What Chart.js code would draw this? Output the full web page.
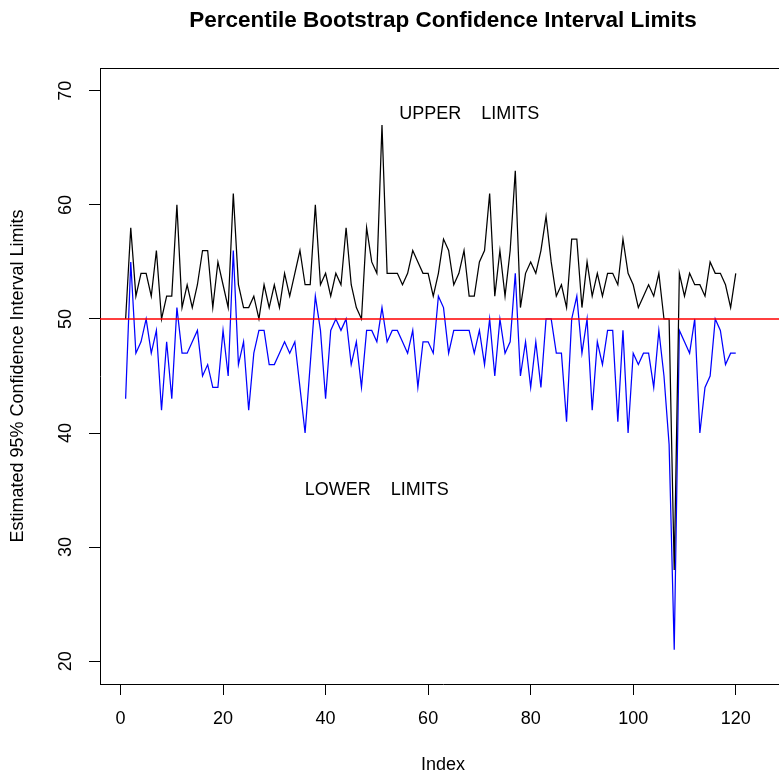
<!DOCTYPE html>
<html>
<head>
<meta charset="utf-8">
<script src="https://cdn.jsdelivr.net/npm/chart.js@4.4.1/dist/chart.umd.min.js"></script>
<style>
  html, body { margin: 0; padding: 0; background: #ffffff; overflow: hidden; }
  #wrap { width: 786px; height: 778px; }
</style>
</head>
<body>
<div id="wrap"><canvas id="c" width="786" height="778"></canvas></div>
<script>
// Bootstrap percentile interval limits, one pair per sample index (1..120)
const upperLimits = [
  50, 58, 52, 54, 54, 52, 56, 50, 52, 52,
  60, 51, 53, 51, 53, 56, 56, 51, 55, 53,
  51, 61, 53, 51, 51, 52, 50, 53, 51, 53,
  51, 54, 52, 54, 56, 53, 53, 60, 53, 54,
  52, 54, 53, 58, 53, 51, 50, 58, 55, 54,
  67, 54, 54, 54, 53, 54, 56, 55, 54, 54,
  52, 54, 57, 56, 53, 54, 56, 52, 52, 55,
  56, 61, 52, 56, 52, 56, 63, 51, 54, 55,
  54, 56, 59, 55, 52, 53, 51, 57, 57, 51,
  55, 52, 54, 52, 54, 54, 53, 57, 54, 53,
  51, 52, 53, 52, 54, 50, 50, 28, 54, 52,
  54, 53, 53, 52, 55, 54, 54, 53, 51, 54
];
const lowerLimits = [
  43, 55, 47, 48, 50, 47, 49, 42, 48, 43,
  51, 47, 47, 48, 49, 45, 46, 44, 44, 49,
  45, 56, 46, 48, 42, 47, 49, 49, 46, 46,
  47, 48, 47, 48, 44, 40, 46, 52, 49, 43,
  49, 50, 49, 50, 46, 48, 44, 49, 49, 48,
  51, 48, 49, 49, 48, 47, 49, 44, 48, 48,
  47, 52, 51, 47, 49, 49, 49, 49, 47, 49,
  46, 50, 45, 50, 47, 48, 54, 45, 48, 44,
  48, 44, 50, 50, 47, 47, 41, 50, 52, 47,
  50, 42, 48, 46, 49, 49, 41, 49, 40, 47,
  46, 47, 47, 44, 49, 45, 39, 21, 49, 48,
  47, 50, 40, 44, 45, 50, 49, 46, 47, 47
];
const xTickValues = [0, 20, 40, 60, 80, 100, 120];
const yTickValues = [20, 30, 40, 50, 60, 70];
const referenceLevel = 50;

const chartTitle = 'Percentile Bootstrap Confidence Interval Limits';
const xAxisTitle = 'Index';
const yAxisTitle = 'Estimated 95% Confidence Interval Limits';
const noteTexts = ['UPPER    LIMITS', 'LOWER    LIMITS'];
const noteIndex = [68, 50];
const noteLevel = [68, 35];

const FONT = '"Liberation Sans", Arial, Helvetica, sans-serif';
const toPoints = arr => arr.map((v, i) => ({ x: i + 1, y: v }));

// Reference line, box top, title, rotated y labels and in-plot notes
const overlay = {
  id: 'overlay',
  afterDatasetsDraw(chart) {
    const { ctx, chartArea: a, scales: { y } } = chart;
    const py = y.getPixelForValue(referenceLevel);
    ctx.save();
    ctx.globalAlpha = 1;
    ctx.globalCompositeOperation = 'source-over';
    ctx.fillStyle = '#ff0000';
    ctx.fillRect(a.left, Math.round(py) - 0.75, a.right - a.left, 1.5);
    ctx.restore();
  },
  afterDraw(chart) {
    const { ctx, chartArea: a, scales: { x, y } } = chart;
    ctx.save();
    ctx.strokeStyle = '#000';
    ctx.lineWidth = 1;
    const ty = Math.round(a.top) + 0.5;
    ctx.beginPath();
    ctx.moveTo(a.left, ty);
    ctx.lineTo(a.right, ty);
    ctx.stroke();

    ctx.fillStyle = '#000';
    ctx.textAlign = 'center';
    ctx.textBaseline = 'middle';
    ctx.font = 'bold 22.5px ' + FONT;
    ctx.fillText(chartTitle, (a.left + a.right) / 2, 21);

    ctx.font = '18px ' + FONT;
    y.ticks.forEach(t => {
      ctx.save();
      ctx.translate(66, y.getPixelForValue(t.value));
      ctx.rotate(-Math.PI / 2);
      ctx.fillText(String(t.value), 0, 0);
      ctx.restore();
    });

    noteTexts.forEach((s, i) => {
      ctx.fillText(s, x.getPixelForValue(noteIndex[i]), y.getPixelForValue(noteLevel[i]));
    });
    ctx.restore();
  }
};

const axisGrid = { drawOnChartArea: false, drawTicks: true, tickLength: 11, color: '#000', lineWidth: 1 };
const axisBorder = { display: true, color: '#000', width: 1 };

new Chart(document.getElementById('c'), {
  type: 'line',
  data: {
    datasets: [
      { label: 'Upper', data: toPoints(upperLimits), borderColor: '#000000', borderWidth: 1.25, pointRadius: 0, tension: 0, fill: false },
      { label: 'Lower', data: toPoints(lowerLimits), borderColor: '#0000ff', borderWidth: 1.25, pointRadius: 0, tension: 0, fill: false }
    ]
  },
  options: {
    responsive: false,
    devicePixelRatio: 1,
    animation: false,
    layout: { padding: { top: 68, right: 0, bottom: 0, left: 0 } },
    plugins: { legend: { display: false }, tooltip: { enabled: false }, title: { display: false } },
    scales: {
      x: {
        type: 'linear',
        min: -4,
        max: 129.8,
        afterBuildTicks: s => { s.ticks = xTickValues.map(v => ({ value: v })); },
        afterFit: s => { s.height = 94; },
        grid: axisGrid,
        border: axisBorder,
        ticks: { color: '#000', font: { family: FONT, size: 18 }, padding: 13, maxRotation: 0, autoSkip: false },
        title: { display: true, text: xAxisTitle, color: '#000', font: { family: FONT, size: 18 }, padding: { top: 0, bottom: 2 } }
      },
      y: {
        type: 'linear',
        min: 18,
        max: 72,
        afterBuildTicks: s => { s.ticks = yTickValues.map(v => ({ value: v })); },
        afterFit: s => { s.width = 100; },
        grid: axisGrid,
        border: axisBorder,
        ticks: { display: false },
        title: { display: true, text: yAxisTitle, color: '#000', font: { family: FONT, size: 18 }, padding: { top: 7, bottom: 0 } }
      }
    }
  },
  plugins: [overlay]
});
</script>
</body>
</html>
